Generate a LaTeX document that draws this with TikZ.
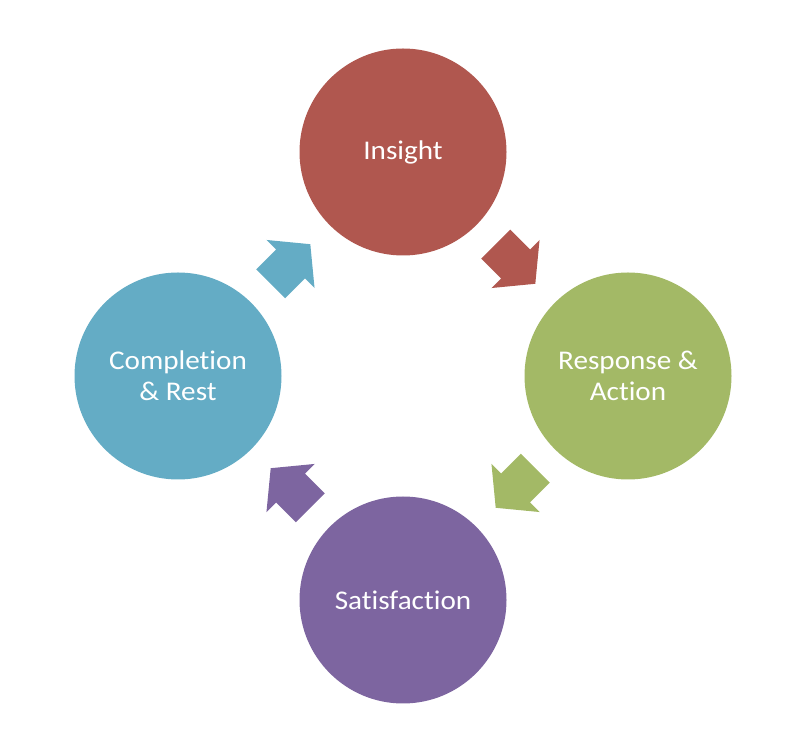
\documentclass[tikz,border=0pt]{standalone}
\usepackage{fontspec}
\setmainfont{Carlito}[FakeStretch=1.08, Ligatures={NoCommon}]
\usetikzlibrary{calc}
\definecolor{redc}{HTML}{B0574F}
\definecolor{greenc}{HTML}{A3B966}
\definecolor{purplec}{HTML}{7D65A0}
\definecolor{bluec}{HTML}{64ACC5}
\tikzset{
  stage/.style={circle, minimum size=207pt, inner sep=0pt, text=white,
    align=center, font=\fontsize{27}{31}\selectfont},
  blockarrow/.pic={
    \path[pic actions] (-28,20.5) -- (0,20.5) -- (0,34) -- (28,0) -- (0,-34)
      -- (0,-20.5) -- (-28,-20.5) -- cycle;
  }
}
\begin{document}
\begin{tikzpicture}[x=1pt,y=1pt]
\useasboundingbox (0,0) rectangle (800,733);
\node[stage, fill=redc] (ins) at (403,581) {Insight};
\node[stage, fill=greenc] (resp) at (628,357) {Response \&\\Action};
\node[stage, fill=purplec] (sat) at (403,133) {Satisfaction};
\node[stage, fill=bluec] (comp) at (178,357) {Completion\\\& Rest};
\path ($(ins.center)!0.5!(resp.center)$) pic[rotate=-45, fill=redc, draw=none] {blockarrow};
\path ($(resp.center)!0.5!(sat.center)$) pic[rotate=-135, fill=greenc, draw=none] {blockarrow};
\path ($(sat.center)!0.5!(comp.center)$) pic[rotate=135, fill=purplec, draw=none] {blockarrow};
\path ($(comp.center)!0.5!(ins.center)$) pic[rotate=45, fill=bluec, draw=none] {blockarrow};
\end{tikzpicture}
\end{document}
